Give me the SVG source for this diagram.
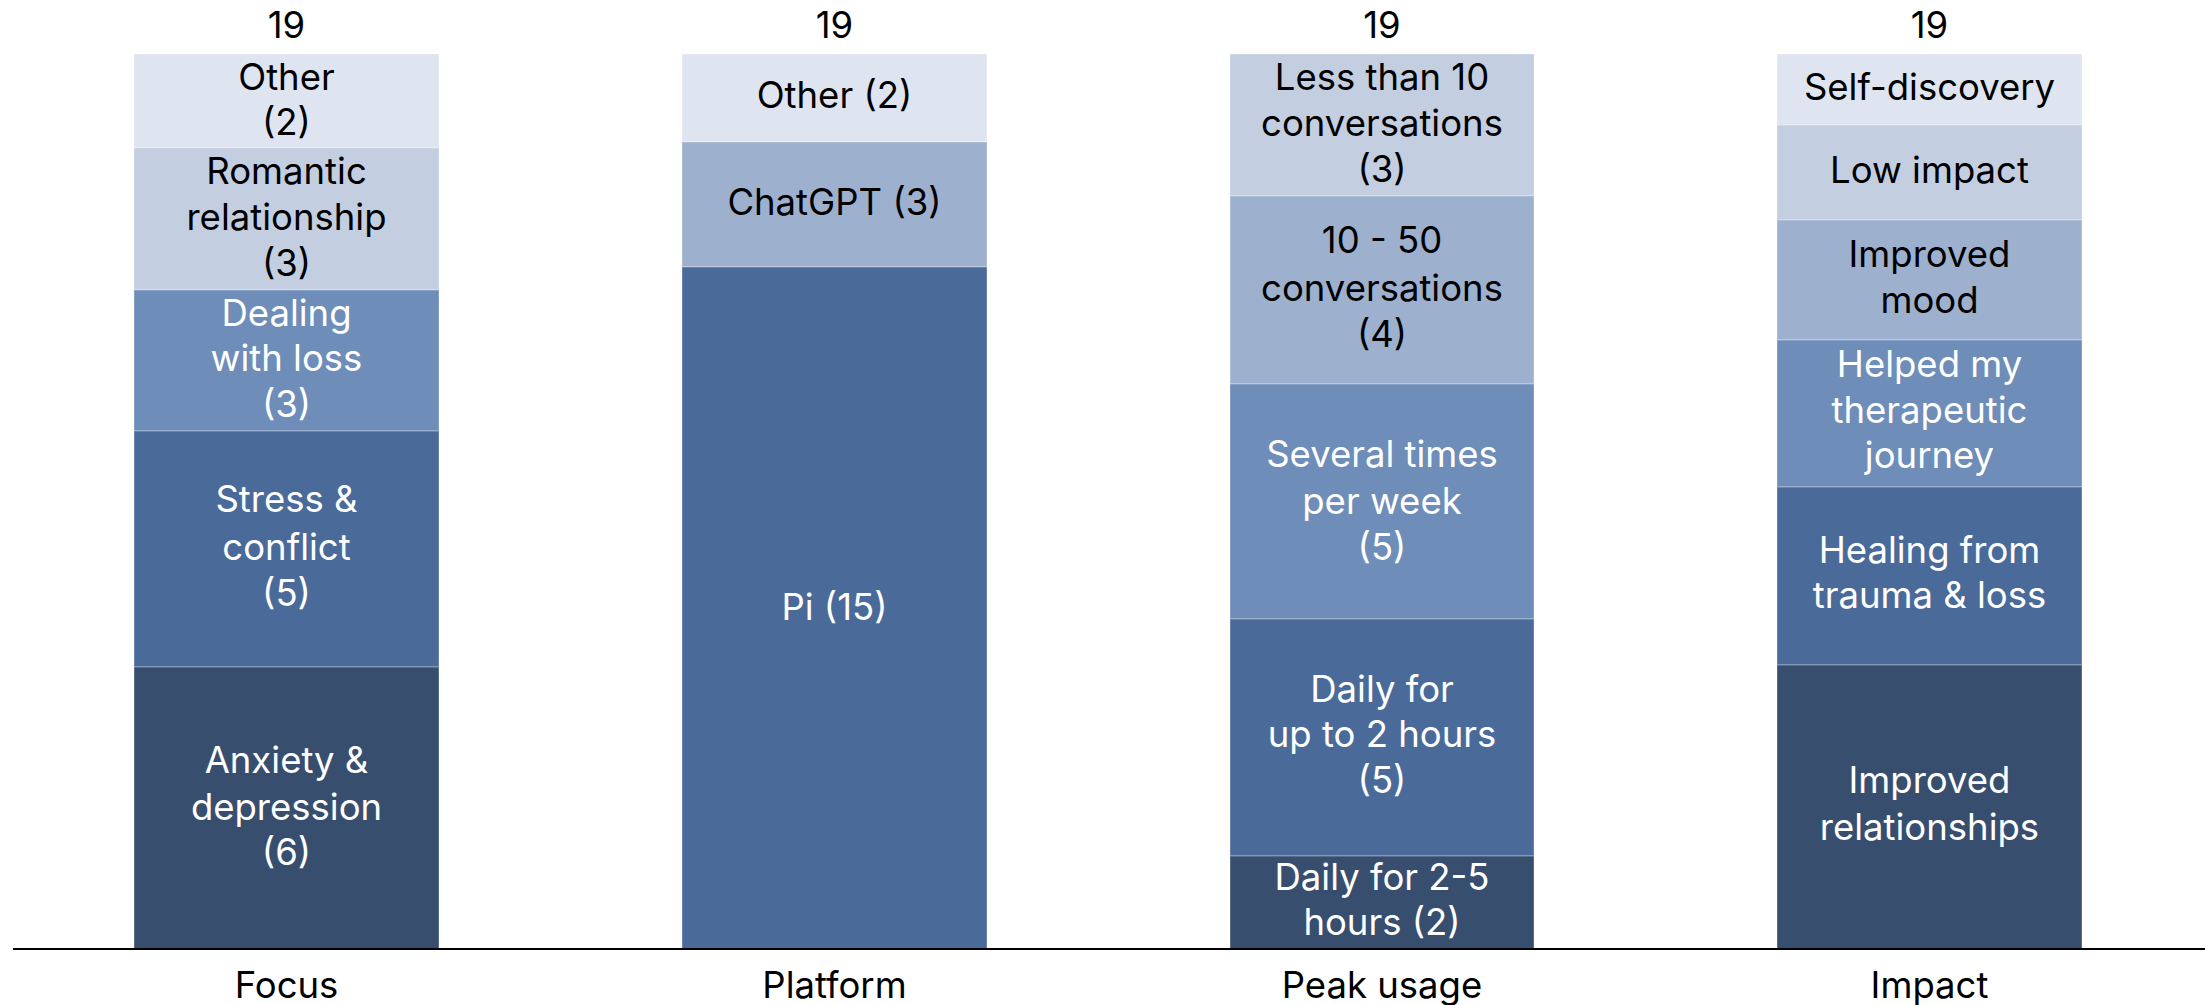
<svg xmlns="http://www.w3.org/2000/svg" width="2205" height="1005" viewBox="0 0 2205 1005">
<style>
text{font-family:Inter,"Open Sans","Liberation Sans",sans-serif;font-size:36.5px;text-anchor:middle}
.k{fill:#000}.w{fill:#fff}
rect{stroke:#ffffff;stroke-opacity:0.35;stroke-width:1}
.c1{fill:#DFE5F0}.c2{fill:#C3CEE1}.c3{fill:#9DB0CE}.c4{fill:#6E8DB9}.c5{fill:#4A6B9A}.c6{fill:#384E6E}
</style>
<rect width="2205" height="1005" fill="#fff" stroke="none"/>
<g id="focus">
<text class="k" x="286.5" y="38">19</text>
<rect class="c1" x="134" y="54" width="305" height="94"/>
<rect class="c2" x="134" y="148" width="305" height="142"/>
<rect class="c4" x="134" y="290" width="305" height="141"/>
<rect class="c5" x="134" y="431" width="305" height="236"/>
<rect class="c6" x="134" y="667" width="305" height="282"/>
<text class="k" x="286.5" y="90">Other</text>
<text class="k" x="286.5" y="135">(2)</text>
<text class="k" x="286.5" y="184">Romantic</text>
<text class="k" x="286.5" y="230">relationship</text>
<text class="k" x="286.5" y="276">(3)</text>
<text class="w" x="286.5" y="326">Dealing</text>
<text class="w" x="286.5" y="371">with loss</text>
<text class="w" x="286.5" y="417">(3)</text>
<text class="w" x="286.5" y="512">Stress &amp;</text>
<text class="w" x="286.5" y="560">conflict</text>
<text class="w" x="286.5" y="606">(5)</text>
<text class="w" x="286.5" y="773">Anxiety &amp;</text>
<text class="w" x="286.5" y="820">depression</text>
<text class="w" x="286.5" y="865">(6)</text>
<text class="k" x="286.5" y="998">Focus</text>
</g>
<g id="platform">
<text class="k" x="834.5" y="38">19</text>
<rect class="c1" x="682" y="54" width="305" height="88"/>
<rect class="c3" x="682" y="142" width="305" height="125"/>
<rect class="c5" x="682" y="267" width="305" height="682"/>
<text class="k" x="834.5" y="108">Other (2)</text>
<text class="k" x="834.5" y="215">ChatGPT (3)</text>
<text class="w" x="834.5" y="620">Pi (15)</text>
<text class="k" x="834.5" y="998">Platform</text>
</g>
<g id="peak-usage">
<text class="k" x="1382" y="38">19</text>
<rect class="c2" x="1230" y="54" width="304" height="142"/>
<rect class="c3" x="1230" y="196" width="304" height="188"/>
<rect class="c4" x="1230" y="384" width="304" height="235"/>
<rect class="c5" x="1230" y="619" width="304" height="237"/>
<rect class="c6" x="1230" y="856" width="304" height="93"/>
<text class="k" x="1382" y="90">Less than 10</text>
<text class="k" x="1382" y="136">conversations</text>
<text class="k" x="1382" y="182">(3)</text>
<text class="k" x="1382" y="253">10 - 50</text>
<text class="k" x="1382" y="301">conversations</text>
<text class="k" x="1382" y="347">(4)</text>
<text class="w" x="1382" y="467">Several times</text>
<text class="w" x="1382" y="514">per week</text>
<text class="w" x="1382" y="560">(5)</text>
<text class="w" x="1382" y="702">Daily for</text>
<text class="w" x="1382" y="747">up to 2 hours</text>
<text class="w" x="1382" y="793">(5)</text>
<text class="w" x="1382" y="890">Daily for 2-5</text>
<text class="w" x="1382" y="935">hours (2)</text>
<text class="k" x="1382" y="998">Peak usage</text>
</g>
<g id="impact">
<text class="k" x="1929.5" y="38">19</text>
<rect class="c1" x="1777" y="54" width="305" height="71"/>
<rect class="c2" x="1777" y="125" width="305" height="95"/>
<rect class="c3" x="1777" y="220" width="305" height="120"/>
<rect class="c4" x="1777" y="340" width="305" height="147"/>
<rect class="c5" x="1777" y="487" width="305" height="178"/>
<rect class="c6" x="1777" y="665" width="305" height="284"/>
<text class="k" x="1929.5" y="100">Self-discovery</text>
<text class="k" x="1929.5" y="183">Low impact</text>
<text class="k" x="1929.5" y="267">Improved</text>
<text class="k" x="1929.5" y="313">mood</text>
<text class="w" x="1929.5" y="377">Helped my</text>
<text class="w" x="1929.5" y="423">therapeutic</text>
<text class="w" x="1929.5" y="468">journey</text>
<text class="w" x="1929.5" y="563">Healing from</text>
<text class="w" x="1929.5" y="608">trauma &amp; loss</text>
<text class="w" x="1929.5" y="793">Improved</text>
<text class="w" x="1929.5" y="840">relationships</text>
<text class="k" x="1929.5" y="998">Impact</text>
</g>
<g id="connectors">
<line x1="13" y1="949" x2="2205" y2="949" stroke="#000" stroke-width="2"/>
</g>
</svg>
